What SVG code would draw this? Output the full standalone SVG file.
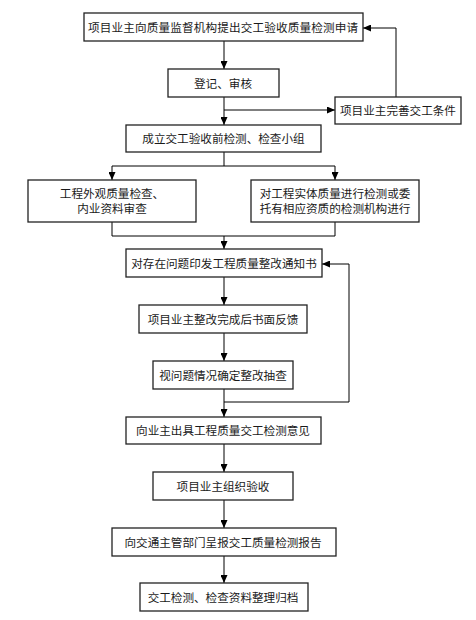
<svg xmlns="http://www.w3.org/2000/svg" width="476" height="620" viewBox="0 0 476 620">
<defs>
<marker id="arr" markerWidth="8" markerHeight="7" refX="8" refY="3.5" orient="auto" markerUnits="userSpaceOnUse">
<path d="M0,0 L8,3.5 L0,7 z" fill="#000"/>
</marker>
<style>
rect.box{fill:#fff;stroke:#222;stroke-width:1.3}
text{font-family:"Noto Sans CJK SC","Liberation Serif",serif;font-size:11.6px;fill:#1a1a1a;text-anchor:middle}
.c path,.c line,.c polyline{fill:none;stroke:#000;stroke-width:1}
</style>
</defs>
<rect width="476" height="620" fill="#fff"/>
<g class="c" id="connectors">
<line x1="224" y1="41" x2="224" y2="69" marker-end="url(#arr)"/>
<line x1="224" y1="97" x2="224" y2="125" marker-end="url(#arr)"/>
<line x1="224" y1="110" x2="335" y2="110" marker-end="url(#arr)"/>
<polyline points="396,97 396,28 363,28" marker-end="url(#arr)"/>
<line x1="224" y1="152" x2="224" y2="166"/>
<line x1="112" y1="166" x2="335" y2="166"/>
<line x1="112" y1="166" x2="112" y2="180" marker-end="url(#arr)"/>
<line x1="335" y1="166" x2="335" y2="180" marker-end="url(#arr)"/>
<polyline points="112,222 112,236 335,236 335,222"/>
<line x1="224" y1="236" x2="224" y2="249" marker-end="url(#arr)"/>
<line x1="224" y1="277" x2="224" y2="305" marker-end="url(#arr)"/>
<line x1="224" y1="333" x2="224" y2="361" marker-end="url(#arr)"/>
<line x1="224" y1="389" x2="224" y2="417" marker-end="url(#arr)"/>
<polyline points="224,402 349,402 349,264 322,264" marker-end="url(#arr)"/>
<line x1="224" y1="444" x2="224" y2="472" marker-end="url(#arr)"/>
<line x1="224" y1="500" x2="224" y2="528" marker-end="url(#arr)"/>
<line x1="224" y1="556" x2="224" y2="583" marker-end="url(#arr)"/>
</g>
<g id="n1"><rect class="box" x="84" y="13" width="279" height="28"/><text x="223" y="31.5" textLength="270" lengthAdjust="spacing">项目业主向质量监督机构提出交工验收质量检测申请</text></g>
<g id="n2"><rect class="box" x="168" y="69" width="111" height="28"/><text x="223" y="87.5">登记、审核</text></g>
<g id="n3"><rect class="box" x="335" y="97" width="126" height="27"/><text x="398" y="115">项目业主完善交工条件</text></g>
<g id="n4"><rect class="box" x="126" y="125" width="195" height="27"/><text x="223.5" y="143">成立交工验收前检测、检查小组</text></g>
<g id="n5"><rect class="box" x="28" y="180" width="168" height="42"/><text x="112" y="197.5">工程外观质量检查、</text><text x="112" y="212.5">内业资料审查</text></g>
<g id="n6"><rect class="box" x="251" y="180" width="168" height="42"/><text x="335" y="197.5">对工程实体质量进行检测或委</text><text x="335" y="212.5">托有相应资质的检测机构进行</text></g>
<g id="n7"><rect class="box" x="126" y="249" width="196" height="28"/><text x="224" y="267.5">对存在问题印发工程质量整改通知书</text></g>
<g id="n8"><rect class="box" x="139" y="305" width="168" height="28"/><text x="223" y="323.5">项目业主整改完成后书面反馈</text></g>
<g id="n9"><rect class="box" x="153" y="361" width="140" height="28"/><text x="223" y="379.5">视问题情况确定整改抽查</text></g>
<g id="n10"><rect class="box" x="126" y="417" width="195" height="27"/><text x="223" y="435">向业主出具工程质量交工检测意见</text></g>
<g id="n11"><rect class="box" x="153" y="472" width="140" height="28"/><text x="223" y="490.5">项目业主组织验收</text></g>
<g id="n12"><rect class="box" x="112" y="528" width="224" height="28"/><text x="223" y="546.5">向交通主管部门呈报交工质量检测报告</text></g>
<g id="n13"><rect class="box" x="140" y="583" width="168" height="28"/><text x="223" y="601.5">交工检测、检查资料整理归档</text></g>
</svg>
